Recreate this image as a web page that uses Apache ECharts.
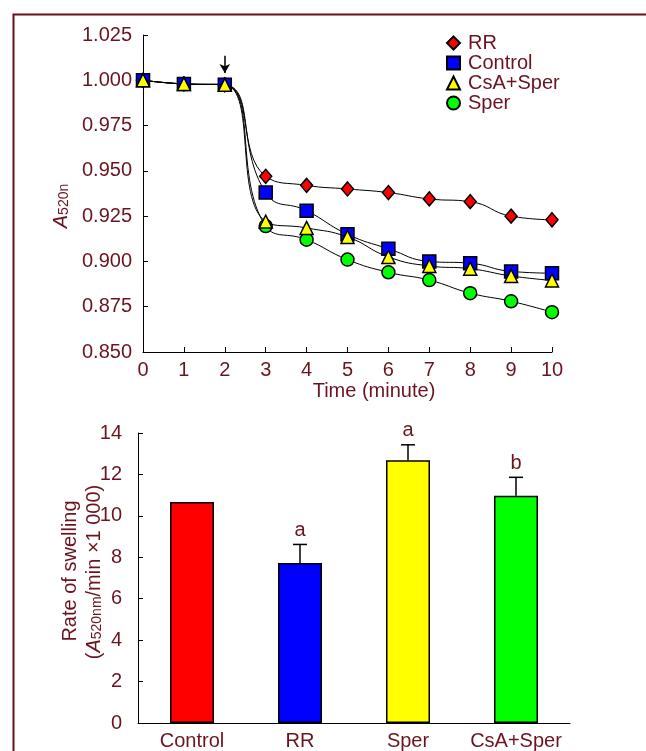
<!DOCTYPE html>
<html>
<head>
<meta charset="utf-8">
<script src="https://cdn.jsdelivr.net/npm/echarts@6/dist/echarts.min.js"></script>
<style>
html,body{margin:0;padding:0;background:#fff;}
#chart{width:646px;height:751px;}
</style>
</head>
<body>
<div id="chart"></div>
<script>
// ---- Data (top panel: absorbance over time) ----
var times = [0, 1, 2, 3, 4, 5, 6, 7, 8, 9, 10];
var rrValues      = [1.000, 0.998, 0.9975, 0.947, 0.942, 0.940, 0.938, 0.9345, 0.933, 0.925, 0.923];
var controlValues = [1.000, 0.998, 0.9975, 0.938, 0.928, 0.915, 0.907, 0.900, 0.899, 0.8945, 0.8935];
var csaSperValues = [1.000, 0.998, 0.9975, 0.922, 0.9185, 0.9135, 0.9025, 0.8975, 0.896, 0.892, 0.8895];
var sperValues    = [1.000, 0.998, 0.9975, 0.9195, 0.912, 0.901, 0.894, 0.8897, 0.8825, 0.878, 0.872];
var seriesNames = ['RR', 'Control', 'CsA+Sper', 'Sper'];
var arrowTime = 2;
var arrowFrom = 1.0135, arrowTo = 1.004;

// ---- Data (bottom panel: rate of swelling) ----
var rateCategories = ['Control', 'RR', 'Sper', 'CsA+Sper'];
var rateValues = [10.67, 7.73, 12.69, 10.97];
var rateErrors = [0, 0.89, 0.74, 0.89];
var rateLetters = ['', 'a', 'a', 'b'];
var rateColors = ['#ff0000', '#0000ff', '#ffff00', '#00ff00'];

var TXT = '#6b1420';
var FONT = 'Liberation Sans, Arial, sans-serif';
var FS = 20;

function zip(xs, ys) { return xs.map(function (x, i) { return [x, ys[i]]; }); }

function lineSeries(name, data, symbol, size, color, z) {
  return {
    name: name, type: 'line', xAxisIndex: 0, yAxisIndex: 0,
    data: zip(times, data), smooth: 0.5, z: z,
    symbol: symbol, symbolSize: size, showSymbol: true,
    lineStyle: { color: '#000', width: 1 },
    itemStyle: { color: color, borderColor: '#000', borderWidth: 1.5 },
    emphasis: { disabled: true }
  };
}

var rrS = lineSeries('RR', rrValues, 'diamond', [12, 14], '#ff0000', 3);
rrS.markLine = {
  silent: true, symbol: ['none', 'arrow'], symbolSize: [8, 9],
  lineStyle: { color: '#000', width: 1.5, type: 'solid' },
  label: { show: false },
  data: [[{ coord: [arrowTime, arrowFrom] }, { coord: [arrowTime, arrowTo] }]]
};

var chart = echarts.init(document.getElementById('chart'), null, { renderer: 'canvas' });
chart.setOption({
  backgroundColor: '#fff',
  animation: false,
  textStyle: { fontFamily: FONT },
  legend: {
    orient: 'vertical', left: 446, top: 33, padding: 0,
    itemWidth: 13, itemHeight: 13, itemGap: 0,
    selectedMode: false,
    data: [
      { name: 'RR', icon: 'diamond' },
      { name: 'Control', icon: 'rect' },
      { name: 'CsA+Sper', icon: 'triangle' },
      { name: 'Sper', icon: 'circle' }
    ],
    textStyle: { color: TXT, fontSize: FS, fontFamily: FONT, lineHeight: 19, padding: [0, 0, 0, 3] }
  },
  grid: [
    { left: 143, top: 35, width: 409, height: 317 },
    { left: 138, top: 433, width: 432, height: 290 }
  ],
  xAxis: [
    {
      gridIndex: 0, type: 'value', min: 0, max: 10, interval: 1,
      axisLine: { lineStyle: { color: '#000', width: 1 } },
      axisTick: { inside: true, length: 5, lineStyle: { color: '#000' } },
      splitLine: { show: false },
      axisLabel: { color: TXT, fontSize: FS, fontFamily: FONT, margin: 8 }
    },
    {
      gridIndex: 1, type: 'category', data: rateCategories,
      axisLine: { lineStyle: { color: '#000', width: 1 } },
      axisTick: { inside: true, length: 5, lineStyle: { color: '#000' } },
      axisLabel: { color: TXT, fontSize: FS, fontFamily: FONT, margin: 8, interval: 0 }
    }
  ],
  yAxis: [
    {
      gridIndex: 0, type: 'value', min: 0.85, max: 1.025, interval: 0.025,
      axisLine: { show: true, lineStyle: { color: '#000', width: 1 } },
      axisTick: { show: true, inside: true, length: 5, lineStyle: { color: '#000' } },
      splitLine: { show: false },
      axisLabel: { color: TXT, fontSize: FS, fontFamily: FONT, margin: 11,
        formatter: function (v) { return v.toFixed(3); } }
    },
    {
      gridIndex: 1, type: 'value', min: 0, max: 14, interval: 2,
      axisLine: { show: true, lineStyle: { color: '#000', width: 1 } },
      axisTick: { show: true, inside: true, length: 5, lineStyle: { color: '#000' } },
      splitLine: { show: false },
      axisLabel: { color: TXT, fontSize: FS, fontFamily: FONT, margin: 16 }
    }
  ],
  graphic: [
    { type: 'rect', left: 11, top: 12, silent: true, z: 100,
      shape: { width: 634, height: 760 },
      style: { fill: 'none', stroke: '#6b0f18', lineWidth: 2 } },
    { type: 'text', x: 374, y: 391, silent: true,
      style: { text: 'Time (minute)', fill: TXT, font: FS + 'px ' + FONT,
        textAlign: 'center', textVerticalAlign: 'middle' } },
    { type: 'text', x: 60, y: 206, rotation: Math.PI / 2, silent: true,
      style: {
        text: '{i|A}{s|520n}', textAlign: 'center', textVerticalAlign: 'middle',
        rich: {
          i: { fontSize: FS, fontStyle: 'italic', fill: TXT, fontFamily: FONT, lineHeight: 22, verticalAlign: 'bottom' },
          s: { fontSize: 14, fill: TXT, fontFamily: FONT, lineHeight: 22, verticalAlign: 'bottom' }
        }
      } },
    { type: 'text', x: 70, y: 571, rotation: Math.PI / 2, silent: true,
      style: { text: 'Rate of swelling', fill: TXT, font: FS + 'px ' + FONT,
        textAlign: 'center', textVerticalAlign: 'middle' } },
    { type: 'text', x: 93, y: 572, rotation: Math.PI / 2, silent: true,
      style: {
        text: '{p|(}{i|A}{s|520nm}{p|/min ×1 000)}', textAlign: 'center', textVerticalAlign: 'middle',
        rich: {
          p: { fontSize: FS, fill: TXT, fontFamily: FONT, lineHeight: 22, verticalAlign: 'bottom' },
          i: { fontSize: FS, fontStyle: 'italic', fill: TXT, fontFamily: FONT, lineHeight: 22, verticalAlign: 'bottom' },
          s: { fontSize: 14, fill: TXT, fontFamily: FONT, lineHeight: 20, verticalAlign: 'bottom' }
        }
      } }
  ],
  series: [
    lineSeries('Sper', sperValues, 'circle', 13, '#00ff00', 2),
    rrS,
    lineSeries('Control', controlValues, 'rect', 13, '#0000ff', 4),
    lineSeries('CsA+Sper', csaSperValues, 'triangle', 13, '#ffff00', 5),
    {
      type: 'bar', xAxisIndex: 1, yAxisIndex: 1, barWidth: 44,
      data: rateValues.map(function (v, i) {
        return { value: v, itemStyle: { color: rateColors[i] } };
      }),
      itemStyle: { borderColor: '#000', borderWidth: 1.5 },
      emphasis: { disabled: true }
    },
    {
      type: 'custom', xAxisIndex: 1, yAxisIndex: 1, z: 5,
      data: rateValues.map(function (v, i) { return [i, v, rateErrors[i]]; }),
      renderItem: function (params, api) {
        var i = api.value(0), v = api.value(1), e = api.value(2);
        var base = api.coord([i, v]);
        var top = api.coord([i, v + e]);
        var children = [];
        if (e > 0) {
          children.push({ type: 'line', shape: { x1: base[0], y1: base[1], x2: top[0], y2: top[1] },
            style: { stroke: '#000', lineWidth: 1.5 } });
          children.push({ type: 'line', shape: { x1: top[0] - 7, y1: top[1], x2: top[0] + 7, y2: top[1] },
            style: { stroke: '#000', lineWidth: 1.5 } });
        }
        var letter = rateLetters[params.dataIndex];
        if (letter) {
          children.push({ type: 'text', x: top[0], y: top[1] - 14,
            style: { text: letter, fill: TXT, font: FS + 'px ' + FONT, textAlign: 'center', textVerticalAlign: 'middle' } });
        }
        return { type: 'group', children: children };
      }
    }
  ]
});
</script>
</body>
</html>
